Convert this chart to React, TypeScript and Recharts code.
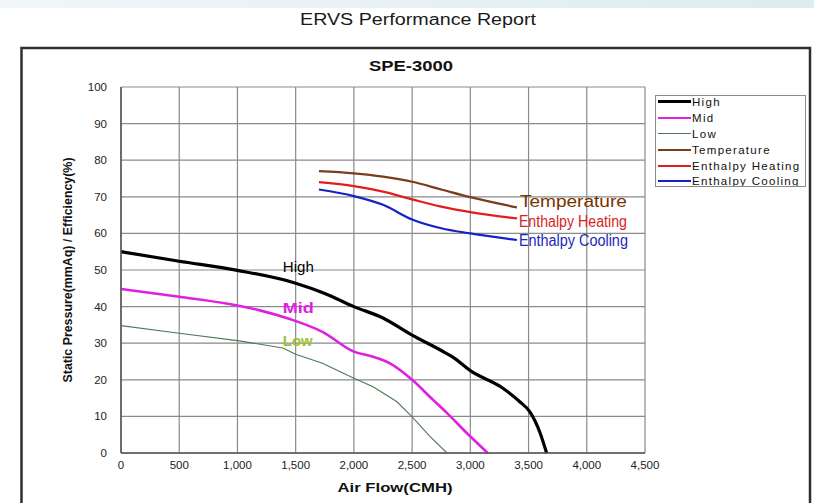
import React from 'react';
import { LineChart, Line, XAxis, YAxis, CartesianGrid, Legend, ReferenceDot } from 'recharts';

// ---- axis ticks ----
const airflowTicks = [0, 500, 1000, 1500, 2000, 2500, 3000, 3500, 4000, 4500];
const valueTicks = [0, 10, 20, 30, 40, 50, 60, 70, 80, 90, 100];

// ---- fan curves (static pressure, mmAq) ----
const highFlow = [0, 500, 1000, 1500, 1750, 2000, 2250, 2500, 2750, 2850, 3000, 3280, 3425, 3510, 3600, 3655];
const highPressure = [55, 52.4, 49.9, 46.4, 43.6, 40, 36.9, 32.2, 28, 26.2, 22.5, 17.7, 14, 11.3, 5.4, 0];

const midFlow = [0, 500, 1000, 1200, 1450, 1730, 2000, 2165, 2310, 2500, 2680, 2800, 3000, 3150];
const midPressure = [44.8, 42.7, 40.3, 38.9, 36.6, 33.1, 27.7, 26.3, 24.5, 20, 14.5, 10.9, 4.5, 0];

const lowFlow = [0, 500, 1000, 1390, 1500, 1730, 2000, 2165, 2370, 2500, 2655, 2800];
const lowPressure = [34.8, 32.7, 30.7, 28.7, 27, 24.5, 20.4, 18.1, 14, 9.9, 4.5, 0];

// ---- efficiency curves (%) ----
const effFlow = [1700, 2000, 2250, 2500, 2750, 3000, 3400];
const temperatureEff = [77, 76.4, 75.5, 74.1, 72, 69.9, 67.1];
const heatingEff = [74, 72.9, 71.4, 69.3, 67.3, 65.8, 64.1];
const coolingEff = [72, 70.2, 67.8, 63.8, 61.4, 60, 58.2];

const seriesNames = ['High', 'Mid', 'Low', 'Temperature', 'Enthalpy Heating', 'Enthalpy Cooling'];

const toPoints = (xs: number[], ys: number[]) => xs.map((x, i) => ({ x, y: ys[i] }));

const highData = toPoints(highFlow, highPressure);
const midData = toPoints(midFlow, midPressure);
const lowData = toPoints(lowFlow, lowPressure);
const tempData = toPoints(effFlow, temperatureEff);
const heatData = toPoints(effFlow, heatingEff);
const coolData = toPoints(effFlow, coolingEff);

const FONT = 'Arial, "Liberation Sans", sans-serif';
const NARROW = '"Liberation Sans Narrow", "Arial Narrow", Arial, sans-serif';

const styles: Record<string, { color: string; width: number }> = {
  High: { color: '#000000', width: 3.2 },
  Mid: { color: '#e020e0', width: 2.6 },
  Low: { color: '#4f7a55', width: 1.1 },
  Temperature: { color: '#7a3d1a', width: 2.2 },
  'Enthalpy Heating': { color: '#e01e1e', width: 2.2 },
  'Enthalpy Cooling': { color: '#1622c4', width: 2.2 },
};

type TextOpts = {
  dx?: number; dy?: number; anchor?: 'start' | 'middle' | 'end';
  fill: string; size: number; weight?: string | number; family?: string; len?: number;
};

const makeText = (text: string, o: TextOpts) => (props: any) => {
  const vb = props.viewBox || { x: 0, y: 0, width: 0, height: 0 };
  const cx = vb.x + (vb.width || 0) / 2;
  const cy = vb.y + (vb.height || 0) / 2;
  return (
    <text
      x={cx + (o.dx || 0)}
      y={cy + (o.dy || 0)}
      textAnchor={o.anchor || 'middle'}
      dominantBaseline="central"
      fill={o.fill}
      fontSize={o.size}
      fontWeight={o.weight || 'normal'}
      fontFamily={o.family || FONT}
      textLength={o.len}
      lengthAdjust={o.len ? 'spacingAndGlyphs' : undefined}
    >
      {text}
    </text>
  );
};

const LegendBox = () => (
  <div
    style={{
      width: 151,
      height: 92,
      border: '1px solid #8c8c8c',
      boxSizing: 'border-box',
      background: '#fff',
      fontFamily: FONT,
      fontSize: 11.5,
      color: '#111',
      overflow: 'hidden',
    }}
  >
    <div style={{ marginTop: -2 }}>
      {seriesNames.map((n) => (
        <div key={n} style={{ display: 'flex', alignItems: 'center', height: 15.9, paddingLeft: 2 }}>
          <span
            style={{
              display: 'inline-block',
              width: 33,
              height: 0,
              borderTop: `${styles[n].width}px solid ${styles[n].color}`,
            }}
          />
          <span style={{ marginLeft: 1, letterSpacing: 1.3, whiteSpace: 'nowrap', lineHeight: '14px' }}>{n}</span>
        </div>
      ))}
    </div>
  </div>
);

const last = (a: number[]) => a[a.length - 1];

export default function App() {
  return (
    <div style={{ position: 'absolute', left: 0, top: 0, width: 814, height: 503, overflow: 'hidden', background: '#fff' }}>
      <svg width={814} height={503} style={{ position: 'absolute', left: 0, top: 0 }}>
        <defs>
          <linearGradient id="topbar" x1="0" y1="0" x2="1" y2="0">
            <stop offset="0" stopColor="#f2f6f8" />
            <stop offset="1" stopColor="#dcecf1" />
          </linearGradient>
        </defs>
        <rect x={0} y={0} width={814} height={8} fill="url(#topbar)" />
        <rect x={21.5} y={48} width={788.5} height={470} fill="none" stroke="#2e2e2e" strokeWidth={2.5} />
        <text x={418} y={19} textAnchor="middle" dominantBaseline="central" fontFamily={FONT} fontSize={16} fill="#1a1a1a" textLength={236} lengthAdjust="spacingAndGlyphs">
          ERVS Performance Report
        </text>
        <text x={411} y={66} textAnchor="middle" dominantBaseline="central" fontFamily={FONT} fontSize={14.5} fontWeight="bold" fill="#111" textLength={84} lengthAdjust="spacingAndGlyphs">
          SPE-3000
        </text>
      </svg>
      <div style={{ position: 'absolute', left: 0, top: 0 }}>
        <LineChart width={814} height={503} margin={{ top: 87, right: 169, bottom: 20, left: 61 }}>
          <CartesianGrid stroke="#8a8a8a" strokeWidth={1.2} />
          <XAxis
            type="number"
            dataKey="x"
            domain={[0, 4500]}
            ticks={airflowTicks}
            allowDataOverflow
            height={30}
            tickLine={false}
            tickSize={6}
            tickMargin={2}
            axisLine={{ stroke: '#555', strokeWidth: 1.5 }}
            tick={{ fontSize: 11.5, fill: '#222', fontFamily: FONT }}
            tickFormatter={(v: number) => v.toLocaleString('en-US')}
            label={{
              content: (p: any) => {
                const vb = p.viewBox;
                return (
                  <text x={vb.x + vb.width / 2 + 12} y={487} textAnchor="middle" dominantBaseline="central" fontFamily={FONT} fontSize={13.5} fontWeight="bold" fill="#111" textLength={115} lengthAdjust="spacingAndGlyphs">
                    Air Flow(CMH)
                  </text>
                );
              },
            }}
          />
          <YAxis
            type="number"
            domain={[0, 100]}
            ticks={valueTicks}
            width={60}
            tickLine={false}
            tickSize={6}
            tickMargin={8}
            axisLine={{ stroke: '#555', strokeWidth: 1.5 }}
            tick={{ fontSize: 11.5, fill: '#222', fontFamily: FONT }}
            label={{
              content: (p: any) => {
                const vb = p.viewBox;
                const cy = vb.y + vb.height / 2;
                return (
                  <text x={68} y={cy} transform={`rotate(-90 68 ${cy})`} textAnchor="middle" dominantBaseline="central" fontFamily={FONT} fontSize={12} fontWeight="bold" fill="#111" textLength={225} lengthAdjust="spacingAndGlyphs">
                    Static Pressure(mmAq) / Efficiency(%)
                  </text>
                );
              },
            }}
          />
          <Legend
            layout="horizontal"
            verticalAlign="middle"
            align="center"
            wrapperStyle={{ position: 'absolute', left: 655, top: 95, width: 151, height: 92 }}
            content={() => <LegendBox />}
          />
          <Line data={lowData} dataKey="y" name="Low" type="linear" stroke={styles.Low.color} strokeWidth={styles.Low.width} dot={false} activeDot={false} isAnimationActive={false} />
          <Line data={midData} dataKey="y" name="Mid" type="monotone" stroke={styles.Mid.color} strokeWidth={styles.Mid.width} dot={false} activeDot={false} isAnimationActive={false} />
          <Line data={highData} dataKey="y" name="High" type="monotone" stroke={styles.High.color} strokeWidth={styles.High.width} dot={false} activeDot={false} isAnimationActive={false} />
          <Line data={tempData} dataKey="y" name="Temperature" type="monotone" stroke={styles.Temperature.color} strokeWidth={styles.Temperature.width} dot={false} activeDot={false} isAnimationActive={false} />
          <Line data={heatData} dataKey="y" name="Enthalpy Heating" type="monotone" stroke={styles['Enthalpy Heating'].color} strokeWidth={styles['Enthalpy Heating'].width} dot={false} activeDot={false} isAnimationActive={false} />
          <Line data={coolData} dataKey="y" name="Enthalpy Cooling" type="monotone" stroke={styles['Enthalpy Cooling'].color} strokeWidth={styles['Enthalpy Cooling'].width} dot={false} activeDot={false} isAnimationActive={false} />

          <ReferenceDot x={1523} y={50.8} r={0} fill="none" stroke="none" label={{ content: makeText('High', { fill: '#000', size: 14, len: 31 }) }} />
          <ReferenceDot x={1523} y={39.8} r={0} fill="none" stroke="none" label={{ content: makeText('Mid', { fill: '#e020e0', size: 15.5, weight: 'bold', len: 31 }) }} />
          <ReferenceDot x={1518} y={30.6} r={0} fill="none" stroke="none" label={{ content: makeText('Low', { fill: '#9ec232', size: 14, weight: 'bold', len: 30 }) }} />

          <ReferenceDot x={last(effFlow)} y={last(temperatureEff)} r={0} fill="none" stroke="none" label={{ content: makeText('Temperature', { fill: '#7a3300', size: 16, anchor: 'start', dx: 3, dy: -6, len: 107 }) }} />
          <ReferenceDot x={last(effFlow)} y={last(heatingEff)} r={0} fill="none" stroke="none" label={{ content: makeText('Enthalpy Heating', { fill: '#d81e1e', size: 16, anchor: 'start', dx: 2, dy: 2.7, len: 108, family: NARROW }) }} />
          <ReferenceDot x={last(effFlow)} y={last(coolingEff)} r={0} fill="none" stroke="none" label={{ content: makeText('Enthalpy Cooling', { fill: '#1a28b8', size: 16, anchor: 'start', dx: 2, dy: 1, len: 109, family: NARROW }) }} />
        </LineChart>
      </div>
    </div>
  );
}
